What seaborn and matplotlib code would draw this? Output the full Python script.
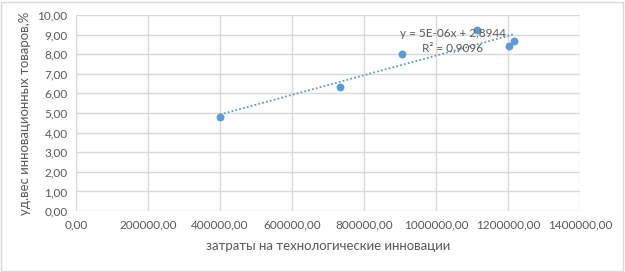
import numpy as np
import pandas as pd
import matplotlib
matplotlib.use('Agg')
import matplotlib.pyplot as plt
from matplotlib.ticker import FuncFormatter, MultipleLocator
from matplotlib.patches import Rectangle
import seaborn as sns

# затраты на инновации / удельный вес инновационных товаров
costs = [400000, 734000, 905600, 1113900, 1202800, 1215800]
share = [4.80, 6.31, 8.01, 9.22, 8.40, 8.69]
eq_text = 'y = 5E-06x + 2,8944'
r2_text = 'R² = 0,9096'

df = pd.DataFrame({'x': costs, 'y': share})

sns.set_style('white')
plt.rcParams['font.family'] = ['Lato', 'DejaVu Sans']

grey = '#595959'
blue = '#5B9BD5'

fig = plt.figure(figsize=(6.25, 2.72), dpi=100)
ax = fig.add_axes([0.1216, 0.224, 0.8064, 0.721])

# линия тренда (линейная)
k, b = np.polyfit(df['x'], df['y'], 1)
tr = pd.DataFrame({'x': [df['x'].min(), df['x'].max()]})
tr['y'] = k * tr['x'] + b
sns.lineplot(data=tr, x='x', y='y', ax=ax, color=blue, lw=1.3,
             linestyle=(0, (1, 1.2)), zorder=3)
sns.scatterplot(data=df, x='x', y='y', ax=ax, color=blue, s=32,
                edgecolor=blue, linewidth=0, zorder=4)

ax.set_xlim(0, 1400000)
ax.set_ylim(0, 10)
ax.xaxis.set_major_locator(MultipleLocator(200000))
ax.yaxis.set_major_locator(MultipleLocator(1))
fmt = FuncFormatter(lambda v, p: f'{v:.2f}'.replace('.', ','))
ax.xaxis.set_major_formatter(fmt)
ax.yaxis.set_major_formatter(fmt)
ax.grid(True, color='#d9d9d9', lw=1.0)
ax.set_axisbelow(True)
for s in ax.spines.values():
    s.set_visible(False)
ax.tick_params(length=0, labelsize=8.5, labelcolor=grey, pad=6)

ax.set_xlabel('затраты на технологические инновации', fontsize=9.5, color=grey, labelpad=7)
ax.set_ylabel('уд.вес инновационных товаров,%', fontsize=9.5, color=grey, labelpad=5)

ax.text(1047000, 9.08, eq_text, fontsize=8.5, color=grey, ha='center', va='center', zorder=5)
ax.text(1047000, 8.32, r2_text, fontsize=8.5, color=grey, ha='center', va='center', zorder=5)

fig.patches.append(Rectangle((0.002, 0.004), 0.995, 0.99, transform=fig.transFigure,
                             fill=False, edgecolor='#d9d9d9', lw=1))

fig.savefig('out.png', dpi=100)
